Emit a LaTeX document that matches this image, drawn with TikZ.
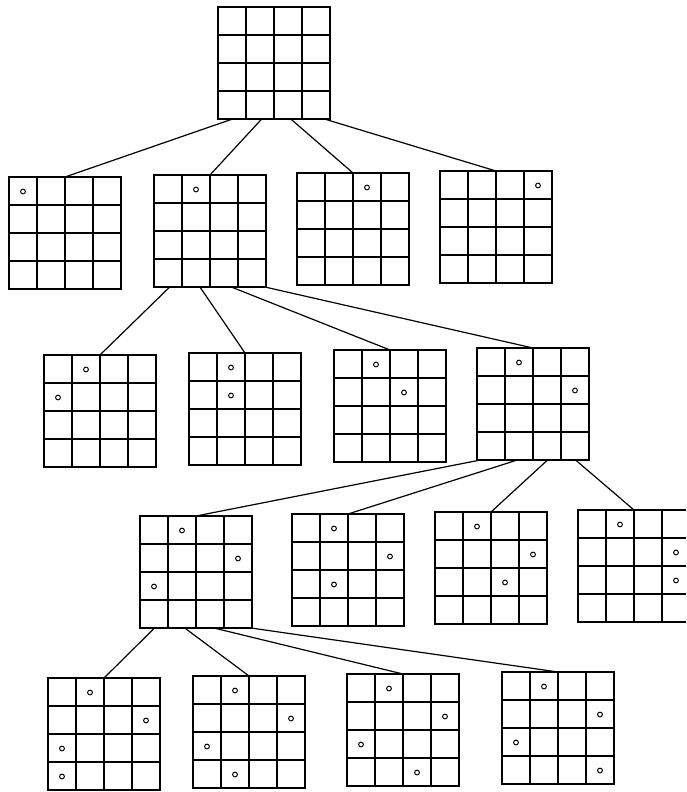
\documentclass[tikz,border=0pt]{standalone}
\usetikzlibrary{calc}
\tikzset{
  board/.style={draw, line width=1.8pt, minimum width=112pt, minimum height=112pt, inner sep=0pt, outer sep=0pt},
  gridline/.style={line width=1.8pt},
  edge/.style={line width=1.2pt, line cap=round},
  queen/.style={line width=1pt}
}
\newcommand\qboard[3]{%
  \node[board] (#1) at (#2+56,#3+56) {};
  \foreach \i in {1,2,3} {
    \draw[gridline] ($(#1.north west)+(\i*28,0)$) -- ($(#1.south west)+(\i*28,0)$);
    \draw[gridline] ($(#1.north west)+(0,\i*28)$) -- ($(#1.north east)+(0,\i*28)$);
  }%
}
\newcommand\qmarks[2]{%
  \foreach \r/\c in {#2} {
    \draw[queen] ($(#1.north west)+(\c*28+14,\r*28+14.5)$) circle (2.4pt);
  }%
}
\newcommand\qedge[3]{%
  \draw[edge] ($(#1.south west)!#2!(#1.south east)$) -- (#3.north);
}
\begin{document}
\begin{tikzpicture}[x=1pt,y=-1pt]
\useasboundingbox (0,0) rectangle (686,792);
\clip (0,0) rectangle (686,792);
% root
\qboard{r}{218}{7}
% level 1
\qboard{a1}{9}{177}   \qmarks{a1}{0/0}
\qboard{a2}{154}{175} \qmarks{a2}{0/1}
\qboard{a3}{297}{173} \qmarks{a3}{0/2}
\qboard{a4}{440}{171} \qmarks{a4}{0/3}
% level 2
\qboard{b1}{44}{355}  \qmarks{b1}{0/1,1/0}
\qboard{b2}{189}{353} \qmarks{b2}{0/1,1/1}
\qboard{b3}{334}{350} \qmarks{b3}{0/1,1/2}
\qboard{b4}{477}{348} \qmarks{b4}{0/1,1/3}
% level 3
\qboard{c1}{140}{516} \qmarks{c1}{0/1,1/3,2/0}
\qboard{c2}{292}{514} \qmarks{c2}{0/1,1/3,2/1}
\qboard{c3}{435}{512} \qmarks{c3}{0/1,1/3,2/2}
\qboard{c4}{578}{510} \qmarks{c4}{0/1,1/3,2/3}
% level 4
\qboard{d1}{48}{678}  \qmarks{d1}{0/1,1/3,2/0,3/0}
\qboard{d2}{193}{676} \qmarks{d2}{0/1,1/3,2/0,3/1}
\qboard{d3}{347}{674} \qmarks{d3}{0/1,1/3,2/0,3/2}
\qboard{d4}{502}{672} \qmarks{d4}{0/1,1/3,2/0,3/3}
% edges
\qedge{r}{0.13}{a1}
\qedge{r}{0.39}{a2}
\qedge{r}{0.65}{a3}
\qedge{r}{0.95}{a4}
\qedge{a2}{0.14}{b1}
\qedge{a2}{0.41}{b2}
\qedge{a2}{0.69}{b3}
\qedge{a2}{0.99}{b4}
\qedge{b4}{0.03}{c1}
\qedge{b4}{0.36}{c2}
\qedge{b4}{0.63}{c3}
\qedge{b4}{0.88}{c4}
\qedge{c1}{0.13}{d1}
\qedge{c1}{0.40}{d2}
\qedge{c1}{0.66}{d3}
\qedge{c1}{0.99}{d4}
\end{tikzpicture}
\end{document}
